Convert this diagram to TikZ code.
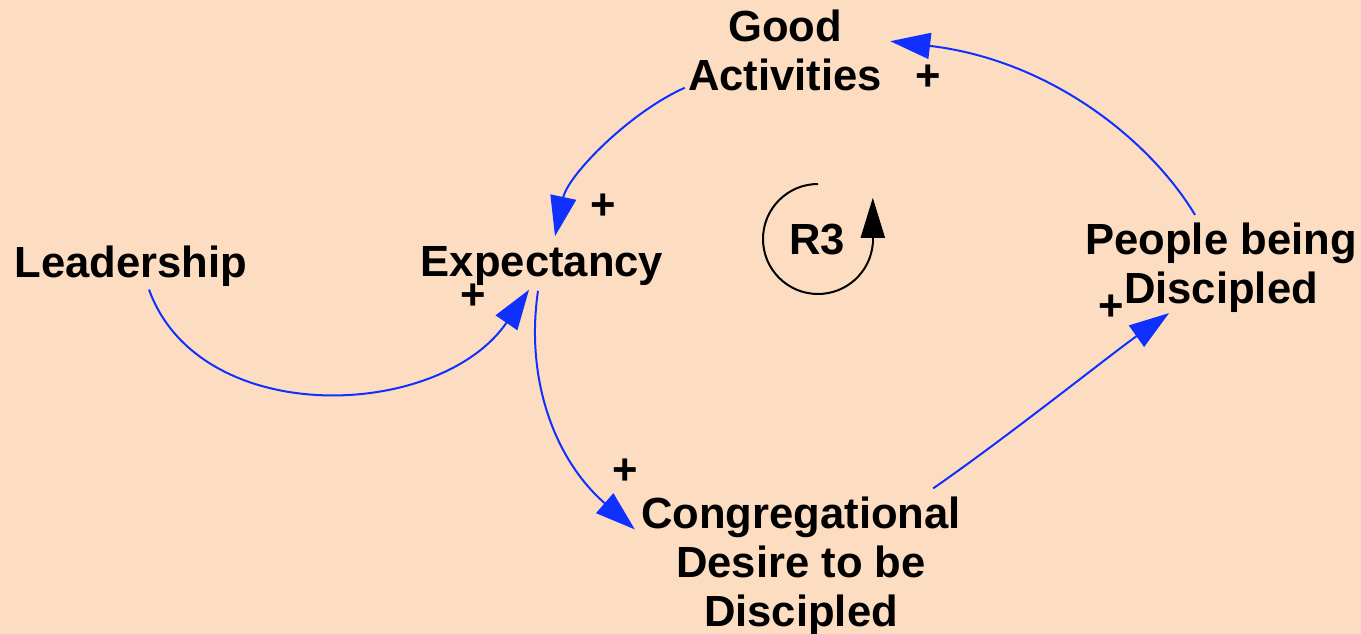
\documentclass[tikz,border=0pt]{standalone}
\usepackage{fontspec}
\setmainfont{Liberation Sans}
\usetikzlibrary{arrows.meta,calc}
\definecolor{bgpeach}{RGB}{252,221,194}
\definecolor{linkblue}{RGB}{16,48,255}
\tikzset{
  var/.style={inner sep=0pt, align=center, font=\bfseries\fontsize{32.7}{36.75}\selectfont},
  polarity/.style={inner sep=0pt, font=\bfseries\fontsize{32.7}{36.75}\selectfont},
  link/.style={draw=linkblue, line width=1.5pt, -{Triangle[length=30pt,width=19.5pt]}, fill=none},
  loopmark/.style={draw=black, line width=1.5pt}
}
\begin{document}
\begin{tikzpicture}[x=0.75pt,y=-0.75pt]
\fill[bgpeach] (0,0) rectangle (1361,634);
\useasboundingbox (0,0) rectangle (1361,634);

\node[var] (ga) at (785,50) {Good\\Activities};
\node[var] (ld) at (131,266) {Leadership};
\node[var] (ex) at (542,266) {Expectancy};
\node[var] (pd) at (1221,268) {People being\\Discipled};
\node[var] (cd) at (801,566) {Congregational\\Desire to be\\Discipled};

\node[polarity] (p1) at (603,207) {+};
\node[polarity] (p2) at (928,78) {+};
\node[polarity] (p3) at (473,297) {+};
\node[polarity] (p4) at (625,472) {+};
\node[polarity] (p5) at (1111,308) {+};

\node[var] (r3) at (817,240) {R3};
\draw[loopmark] (818,184) arc[start angle=90, end angle=355, radius=41.25pt] coordinate (r3end);
\draw[loopmark, -{Triangle[length=30pt,width=18pt]}] (r3end) -- ++(0,-46);

\draw[link] ($(ga.south west)+(-3,-3)$) .. controls (630,112) and (568,175) .. ($(ex.north)+(13,-10)$);
\draw[link] ($(pd.north)+(-26,-8)$) .. controls (1150,140) and (1050,60) .. ($(ga.north east)+(8,32)$);
\draw[link] ($(ld.south)+(18,3)$) .. controls (200,430) and (440,420) .. ($(ex.south)+(-13,4)$);
\draw[link] ($(ex.south)+(-4,5)$) .. controls (525,380) and (555,460) .. ($(cd.north west)+(-6,33)$);
\draw[link] ($(cd.north east)+(-28,-8)$) .. controls (1010,435) and (1110,355) .. ($(pd.south west)+(84,0)$);
\end{tikzpicture}
\end{document}
